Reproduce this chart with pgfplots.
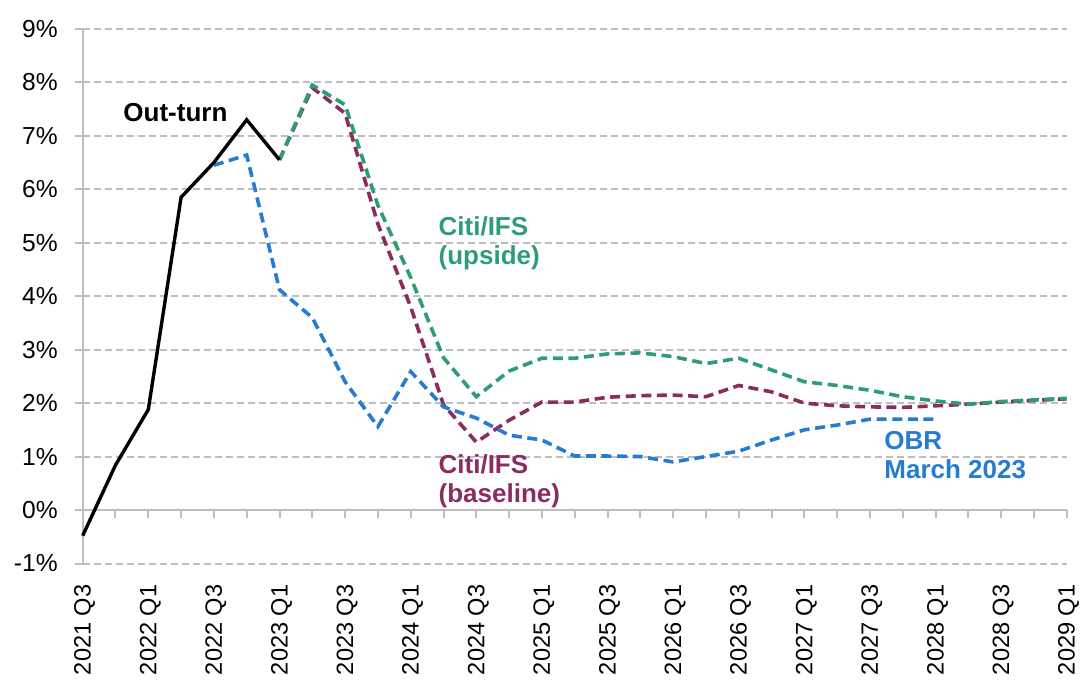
\documentclass[border=0pt]{standalone}
\usepackage{fontspec}
\setmainfont{Liberation Sans}
\usepackage{pgfplots}
\pgfplotsset{compat=1.18}

\definecolor{obrblue}{RGB}{38,124,208}
\definecolor{citigreen}{RGB}{46,158,114}
\definecolor{citipurple}{RGB}{140,44,94}
\definecolor{axisgray}{RGB}{190,190,190}

\begin{document}
\begin{tikzpicture}
\begin{axis}[
    at={(0,0)}, anchor=south west,
    scale only axis,
    width=492pt, height=267.3pt,
    xmin=0, xmax=30,
    ymin=-1, ymax=9,
    axis y line=left,
    axis x line=bottom,
    x axis line style={draw=none},
    y axis line style={-, draw=axisgray, line width=1pt},
    xtick={0,2,...,30},
    xticklabels={2021 Q3,2022 Q1,2022 Q3,2023 Q1,2023 Q3,2024 Q1,2024 Q3,2025 Q1,2025 Q3,2026 Q1,2026 Q3,2027 Q1,2027 Q3,2028 Q1,2028 Q3,2029 Q1},
    x tick style={draw=none},
    xticklabel style={yshift=-6.3pt, xshift=1pt, rotate=90, anchor=east, inner sep=0pt, font=\fontsize{11.8}{13}\selectfont},
    ytick={-1,0,...,9},
    yticklabels={-1\%,0\%,1\%,2\%,3\%,4\%,5\%,6\%,7\%,8\%,9\%},
    yticklabel style={font=\fontsize{12.3}{14}\selectfont, xshift=-5pt},
    y tick style={draw=axisgray, line width=1pt},
    tick align=outside,
    major tick length=4pt,
    ymajorgrids,
    major grid style={draw=axisgray, line width=1pt, dash pattern=on 3.5pt off 2pt},
    clip=false,
]

% zero line with quarterly ticks
\draw[axisgray, line width=1pt] (axis cs:0,0) -- (axis cs:30,0);
\pgfplotsinvokeforeach{0,...,30}{
  \draw[axisgray, line width=1pt] (axis cs:#1,0) -- ++(0pt,-4pt);
}

% Citi/IFS baseline
\addplot[citipurple, line width=1.8pt, dash pattern=on 5pt off 2.8pt] coordinates {
(6,6.55) (7,7.90) (8,7.42) (9,5.35) (10,3.80) (11,1.97) (12,1.27) (13,1.68) (14,2.02)
(15,2.02) (16,2.11) (17,2.14) (18,2.15) (19,2.12) (20,2.33) (21,2.21) (22,2.00)
(23,1.95) (24,1.93) (25,1.92) (26,1.95) (27,1.98) (28,2.02) (29,2.05) (30,2.08)};

% Citi/IFS upside
\addplot[citigreen, line width=1.8pt, dash pattern=on 5pt off 2.8pt] coordinates {
(6,6.55) (7,7.95) (8,7.58) (9,5.70) (10,4.35) (11,2.85) (12,2.12) (13,2.60) (14,2.84)
(15,2.84) (16,2.92) (17,2.94) (18,2.87) (19,2.74) (20,2.84) (21,2.62) (22,2.40)
(23,2.33) (24,2.24) (25,2.12) (26,2.04) (27,1.98) (28,2.03) (29,2.06) (30,2.09)};

% OBR March 2023
\addplot[obrblue, line width=1.8pt, dash pattern=on 5pt off 2.8pt] coordinates {
(4,6.45) (5,6.64) (6,4.12) (7,3.60) (8,2.40) (9,1.56) (10,2.59) (11,1.93) (12,1.72)
(13,1.40) (14,1.31) (15,1.01) (16,1.01) (17,1.00) (18,0.90) (19,1.00) (20,1.10)
(21,1.31) (22,1.50) (23,1.59) (24,1.70) (25,1.70) (26,1.70)};

% Out-turn
\addplot[black, line width=1.7pt] coordinates {
(0,-0.48) (1,0.84) (2,1.88) (3,5.85) (4,6.50) (5,7.30) (6,6.55)};

\node[anchor=west, inner sep=0pt, font=\bfseries\fontsize{13}{14.5}\selectfont]
  at (axis cs:1.23,7.43) {Out-turn};
\node[anchor=west, inner sep=0pt, align=left, text=citigreen, font=\bfseries\fontsize{13}{14.5}\selectfont]
  at (axis cs:10.84,4.99) {Citi/IFS\\(upside)};
\node[anchor=west, inner sep=0pt, align=left, text=citipurple, font=\bfseries\fontsize{13}{14.5}\selectfont]
  at (axis cs:10.84,0.54) {Citi/IFS\\(baseline)};
\node[anchor=west, inner sep=0pt, align=left, text=obrblue, font=\bfseries\fontsize{13}{14.5}\selectfont]
  at (axis cs:24.43,1.03) {OBR\\March 2023};
\end{axis}
\path (-41.35pt,-58.75pt) rectangle (499.15pt,281.75pt);
\end{tikzpicture}
\end{document}
